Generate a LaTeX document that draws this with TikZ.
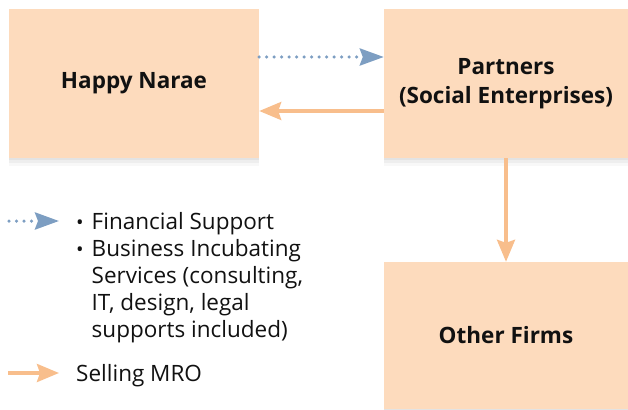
\documentclass[tikz,border=0pt]{standalone}
\usepackage{fontspec}
\setmainfont{Open Sans}
\usetikzlibrary{arrows.meta,shadows}

\definecolor{boxfill}{HTML}{FDDBBD}
\definecolor{sellcol}{HTML}{F8BE8C}
\definecolor{fincol}{HTML}{7D9EC2}
\definecolor{txtcol}{HTML}{111111}

\tikzset{
  firm/.style={fill=boxfill, draw=none, inner sep=0pt, align=center,
    font=\fontsize{22.5}{29}\selectfont\bfseries, text=txtcol,
    drop shadow={opacity=0.06, shadow xshift=0pt, shadow yshift=-8pt},
    drop shadow={opacity=0.08, shadow xshift=0pt, shadow yshift=-5pt},
    drop shadow={opacity=0.10, shadow xshift=0pt, shadow yshift=-2pt}},
  finarrow/.style={draw=fincol, line width=3.5pt, line cap=round,
    dash pattern=on 0pt off 7.5pt,
    -{Stealth[length=24pt,width=17pt,inset=3pt,line cap=butt,sep=0pt]}},
  sellarrow/.style={draw=sellcol, line width=3.5pt,
    -{Stealth[length=22pt,width=18pt,inset=3pt]}},
  legend/.style={inner sep=0pt, text=txtcol, font=\fontsize{22.5}{27}\selectfont}
}
\newcommand{\legbullet}{{\fontsize{20}{27}\selectfont\raisebox{-0.5pt}{•}}}

\begin{document}
\begin{tikzpicture}[x=1pt, y=-1pt]
  \clip (0,0) rectangle (628,409);

  % Boxes
  \node[firm, minimum width=250pt, minimum height=149pt] (happy) at (134,83.5) {Happy Narae};
  \node[firm, minimum width=244pt, minimum height=149pt] (partners) at (506,83.5) {Partners\\(Social Enterprises)};
  \node[firm, minimum width=244pt, minimum height=147pt] (others) at (506,335.5) {Other Firms};

  % Flows
  \draw[finarrow] ([yshift=26.5pt]happy.east) -- ([yshift=26.5pt]partners.west);
  \draw[sellarrow] ([yshift=-27.5pt]partners.west) -- ([yshift=-27.5pt]happy.east);
  \draw[sellarrow] (partners.south) -- (others.north);

  % Legend
  \coordinate (finA) at (9,221);
  \coordinate (finB) at (59,221);
  \coordinate (sellA) at (8,373);
  \coordinate (sellB) at (59,373);
  \draw[finarrow] (finA) -- (finB);
  \draw[sellarrow] (sellA) -- (sellB);
  \node[legend, anchor=base west] (finlist) at (76,229)
    {\begin{tabular}[t]{@{}l@{\hspace{8pt}}l@{}}
      \legbullet & Financial Support\\
      \legbullet & Business Incubating\\
      & Services (consulting,\\
      & IT, design, legal\\
      & supports included)
    \end{tabular}};
  \node[legend, anchor=base west] (selltext) at (76,381) {Selling MRO};
\end{tikzpicture}
\end{document}
